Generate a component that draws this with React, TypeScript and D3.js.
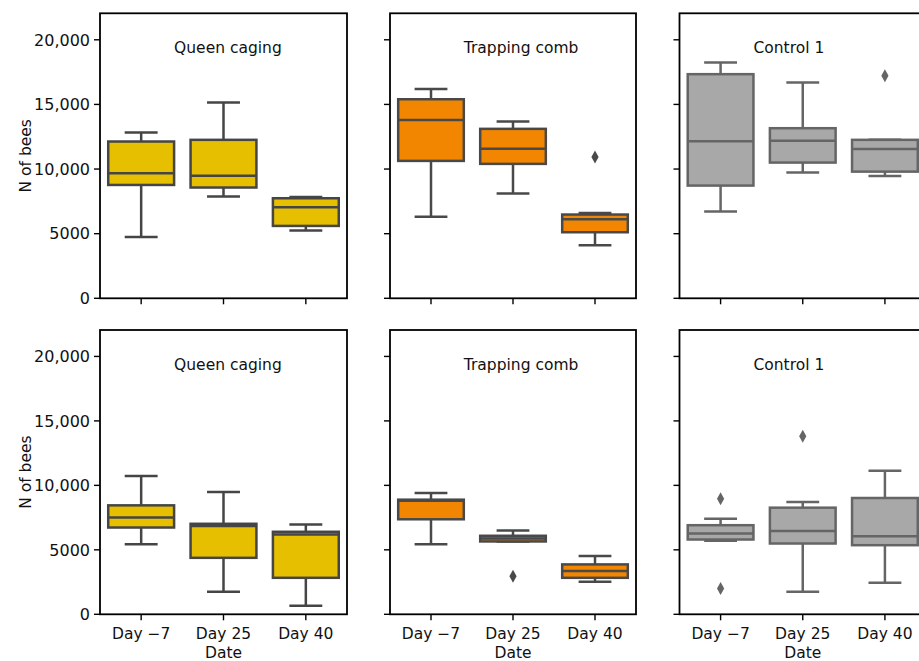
import React from "react";
import * as d3 from "d3";

// Box statistics per panel: [lower whisker, Q1, median, Q3, upper whisker]
type Stat = [number, number, number, number, number];

const dates = ["Day −7", "Day 25", "Day 40"];
const groups = ["Queen caging", "Trapping comb", "Control 1"];
const yTicks = [0, 5000, 10000, 15000, 20000];
const yTickLabels = ["0", "5000", "10,000", "15,000", "20,000"];
const yMax = 22050;

const queenTop: Stat[] = [
  [4750, 8770, 9680, 12130, 12830],
  [7870, 8570, 9490, 12260, 15150],
  [5240, 5600, 7040, 7740, 7840],
];
const trapTop: Stat[] = [
  [6300, 10630, 13800, 15400, 16200],
  [8100, 10400, 11580, 13110, 13670],
  [4100, 5110, 6120, 6480, 6600],
];
const controlTop: Stat[] = [
  [6710, 8720, 12150, 17340, 18240],
  [9730, 10500, 12180, 13160, 16690],
  [9470, 9800, 11560, 12260, 12260],
];
const queenBottom: Stat[] = [
  [5440, 6730, 7500, 8450, 10720],
  [1750, 4380, 6850, 7020, 9480],
  [670, 2830, 6190, 6400, 6960],
];
const trapBottom: Stat[] = [
  [5440, 7370, 8800, 8890, 9400],
  [5650, 5650, 5880, 6090, 6500],
  [2520, 2830, 3350, 3870, 4530],
];
const controlBottom: Stat[] = [
  [5700, 5800, 6260, 6910, 7420],
  [1750, 5490, 6470, 8270, 8710],
  [2450, 5360, 6060, 9020, 11130],
];

// Fliers per panel, per date
const queenTopOut: number[][] = [[], [], []];
const trapTopOut: number[][] = [[], [], [10940]];
const controlTopOut: number[][] = [[], [], [17210]];
const queenBottomOut: number[][] = [[], [], []];
const trapBottomOut: number[][] = [[], [2950], []];
const controlBottomOut: number[][] = [[8970, 2010], [13810], []];

const fills = ["#E6BF00", "#F28600", "#A8A8A8"];
const edges = ["#454545", "#494949", "#656565"];

const colX: [number, number][] = [
  [100, 347],
  [390, 636],
  [679.5, 926],
];
const rowY: [number, number][] = [
  [13.3, 298.3],
  [330, 614.3],
];

const rows = [
  { stats: [queenTop, trapTop, controlTop], out: [queenTopOut, trapTopOut, controlTopOut] },
  { stats: [queenBottom, trapBottom, controlBottom], out: [queenBottomOut, trapBottomOut, controlBottomOut] },
];

const FONT = "'DejaVu Sans', Verdana, sans-serif";

function Panel({
  col,
  row,
  stats,
  out,
}: {
  col: number;
  row: number;
  stats: Stat[];
  out: number[][];
}) {
  const [x0, x1] = colX[col];
  const [y0, y1] = rowY[row];
  const x = d3.scaleBand<string>().domain(dates).range([x0, x1]).padding(0);
  const y = d3.scaleLinear().domain([0, yMax]).range([y1, y0]);
  const bw = x.bandwidth();
  const boxW = bw * 0.8;
  const capW = boxW / 2;
  const fill = fills[col];
  const edge = edges[col];
  const lw = 2.5;
  const isBottom = row === 1;
  const diamond = (cx: number, cy: number) =>
    `M${cx},${cy - 6.5}L${cx + 3.6},${cy}L${cx},${cy + 6.5}L${cx - 3.6},${cy}Z`;

  return (
    <g>
      {stats.map((s, i) => {
        const cx = (x(dates[i]) as number) + bw / 2;
        const [lo, q1, med, q3, hi] = s;
        return (
          <g key={i}>
            <line x1={cx} x2={cx} y1={y(q3)} y2={y(hi)} stroke={edge} strokeWidth={lw} />
            <line x1={cx} x2={cx} y1={y(q1)} y2={y(lo)} stroke={edge} strokeWidth={lw} />
            <line x1={cx - capW / 2} x2={cx + capW / 2} y1={y(hi)} y2={y(hi)} stroke={edge} strokeWidth={lw} />
            <line x1={cx - capW / 2} x2={cx + capW / 2} y1={y(lo)} y2={y(lo)} stroke={edge} strokeWidth={lw} />
            <rect
              x={cx - boxW / 2}
              y={y(q3)}
              width={boxW}
              height={y(q1) - y(q3)}
              fill={fill}
              stroke={edge}
              strokeWidth={lw}
            />
            <line x1={cx - boxW / 2} x2={cx + boxW / 2} y1={y(med)} y2={y(med)} stroke={edge} strokeWidth={lw} />
            {out[i].map((v, k) => (
              <path key={k} d={diamond(cx, y(v))} fill={edge} />
            ))}
          </g>
        );
      })}
      {/* spines */}
      <rect x={x0} y={y0} width={x1 - x0} height={y1 - y0} fill="none" stroke="#000" strokeWidth={1.8} />
      {/* y ticks */}
      {yTicks.map((t, i) => (
        <g key={t}>
          <line x1={x0 - 6} x2={x0} y1={y(t)} y2={y(t)} stroke="#000" strokeWidth={1.4} />
          {col === 0 && (
            <text x={x0 - 10} y={y(t)} dy="0.36em" textAnchor="end" fontSize={16} fontFamily={FONT} fill="#111">
              {yTickLabels[i]}
            </text>
          )}
        </g>
      ))}
      {/* x ticks */}
      {dates.map((d) => {
        const cx = (x(d) as number) + bw / 2;
        return (
          <g key={d}>
            <line x1={cx} x2={cx} y1={y1} y2={y1 + 6} stroke="#000" strokeWidth={1.4} />
            {isBottom && (
              <text x={cx} y={y1 + 25} textAnchor="middle" fontSize={15.5} fontFamily={FONT} fill="#111">
                {d}
              </text>
            )}
          </g>
        );
      })}
      <text x={x0 + (x1 - x0) * 0.3} y={y0 + 40} fontSize={15.5} fontFamily={FONT} fill="#111">
        {groups[col]}
      </text>
      {isBottom && (
        <text x={(x0 + x1) / 2} y={658} textAnchor="middle" fontSize={15.5} fontFamily={FONT} fill="#111">
          Date
        </text>
      )}
      {col === 0 && (
        <text
          transform={`translate(31,${(y0 + y1) / 2}) rotate(-90)`}
          textAnchor="middle"
          fontSize={15.5}
          fontFamily={FONT}
          fill="#111"
        >
          N of bees
        </text>
      )}
    </g>
  );
}

export default function App() {
  return (
    <svg
      width={919}
      height={661}
      style={{ position: "absolute", left: 0, top: 0, background: "#fff" }}
    >
      <rect width={919} height={661} fill="#fff" />
      {rows.map((r, ri) =>
        groups.map((g, ci) => (
          <Panel key={`${ri}-${ci}`} col={ci} row={ri} stats={r.stats[ci]} out={r.out[ci]} />
        ))
      )}
    </svg>
  );
}
